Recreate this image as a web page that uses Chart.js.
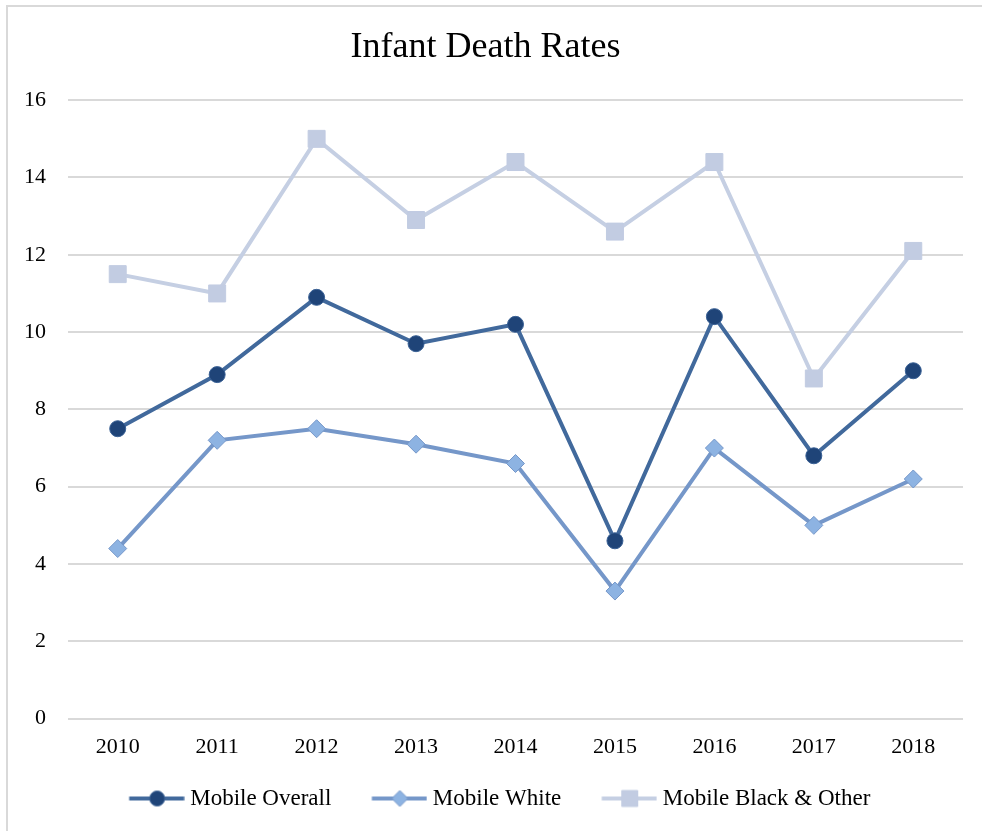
<!DOCTYPE html>
<html>
<head>
<meta charset="utf-8">
<script src="https://cdn.jsdelivr.net/npm/chart.js@4/dist/chart.umd.min.js"></script>
<style>
  html, body { margin: 0; padding: 0; background: #fff; }
  #wrap { position: absolute; left: 0; top: 0; width: 982px; height: 831px; }
  #frame { position: absolute; left: 6px; top: 5px; right: 0; bottom: 0;
           border-left: 2px solid #d9d9d9; border-top: 2px solid #d9d9d9; pointer-events: none; }
</style>
</head>
<body>
<div id="wrap">
  <canvas id="chart" width="982" height="831"></canvas>
  <div id="frame"></div>
</div>
<script>
// --------------
// DATA
// --------------
const years = ["2010", "2011", "2012", "2013", "2014", "2015", "2016", "2017", "2018"];
const overall = [7.5, 8.9, 10.9, 9.7, 10.2, 4.6, 10.4, 6.8, 9.0];
const white = [4.4, 7.2, 7.5, 7.1, 6.6, 3.3, 7.0, 5.0, 6.2];
const blackOther = [11.5, 11.0, 15.0, 12.9, 14.4, 12.6, 14.4, 8.8, 12.1];
const yTicks = [0, 2, 4, 6, 8, 10, 12, 14, 16];

const FONT = "'Liberation Serif', 'DejaVu Serif', serif";

const series = [
  { label: "Mobile Overall", data: overall, line: "#41699c", fill: "#1f4478", border: "#3a6195", style: "circle", r: 8 },
  { label: "Mobile White", data: white, line: "#7597c9", fill: "#8db3e2", border: "#7597c9", style: "rectRot", r: 9 },
  { label: "Mobile Black & Other", data: blackOther, line: "#c5cfe3", fill: "#c2cce2", border: "#c2cce2", style: "rect", r: 12 }
];

// Helper: line + marker picture for the legend
// (blank on the left makes the gap between items, the line runs up close to the text)
const ICON_W = 78;
function legendIcon(s) {
  const c = document.createElement("canvas");
  c.width = ICON_W + 12; c.height = 20;
  const g = c.getContext("2d");
  const x1 = ICON_W + 11.5, x0 = x1 - 55, cx = x1 - 27;
  g.strokeStyle = s.line;
  g.lineWidth = 4;
  g.beginPath(); g.moveTo(x0, 10); g.lineTo(x1, 10); g.stroke();
  g.fillStyle = s.fill;
  g.strokeStyle = s.border;
  g.lineWidth = 1;
  g.beginPath();
  if (s.style === "circle") g.arc(cx, 10, 7.5, 0, Math.PI * 2);
  else if (s.style === "rectRot") { g.moveTo(cx, 2); g.lineTo(cx + 8, 10); g.lineTo(cx, 18); g.lineTo(cx - 8, 10); g.closePath(); }
  else g.rect(cx - 8, 2, 16, 16);
  g.fill(); g.stroke();
  return c;
}

const datasets = series.map(s => ({
  label: s.label,
  data: s.data,
  borderColor: s.line,
  backgroundColor: s.fill,
  borderWidth: 4,
  pointStyle: s.style,
  pointRadius: s.r,
  pointHoverRadius: s.r,
  pointBackgroundColor: s.fill,
  pointBorderColor: s.border,
  pointBorderWidth: 1,
  tension: 0,
  icon: legendIcon(s)
}));

new Chart(document.getElementById("chart"), {
  type: "line",
  data: { labels: years, datasets: datasets.slice().reverse() },
  options: {
    responsive: false,
    animation: false,
    layout: { padding: { left: 8, right: 19, top: 8, bottom: 11 } },
    plugins: {
      title: {
        display: true,
        text: "Infant Death Rates",
        color: "#000",
        font: { family: FONT, size: 36, weight: "normal" },
        padding: { top: 18, bottom: 31 }
      },
      legend: {
        position: "bottom",
        reverse: true,
        labels: {
          color: "#000",
          font: { family: FONT, size: 23 },
          usePointStyle: true,
          pointStyleWidth: ICON_W,
          padding: 12,
          generateLabels: chart => chart.data.datasets.map((ds, i) => ({
            text: ds.label,
            pointStyle: ds.icon,
            fillStyle: ds.backgroundColor,
            strokeStyle: ds.borderColor,
            lineWidth: 0,
            datasetIndex: i,
            hidden: false
          }))
        }
      },
      tooltip: { enabled: false }
    },
    scales: {
      x: {
        offset: true,
        grid: { display: false },
        border: { display: false },
        afterFit: scale => { scale.height += 8; },
        ticks: { color: "#000", font: { family: FONT, size: 22 }, padding: 7 }
      },
      y: {
        min: 0,
        max: 16,
        afterBuildTicks: scale => { scale.ticks = yTicks.map(v => ({ value: v })); },
        afterFit: scale => { scale.width = 60; },
        grid: { color: "#d9d9d9", lineWidth: 2, drawTicks: false },
        border: { display: false },
        ticks: { color: "#000", font: { family: FONT, size: 22 }, padding: 22 }
      }
    }
  }
});
</script>
</body>
</html>
